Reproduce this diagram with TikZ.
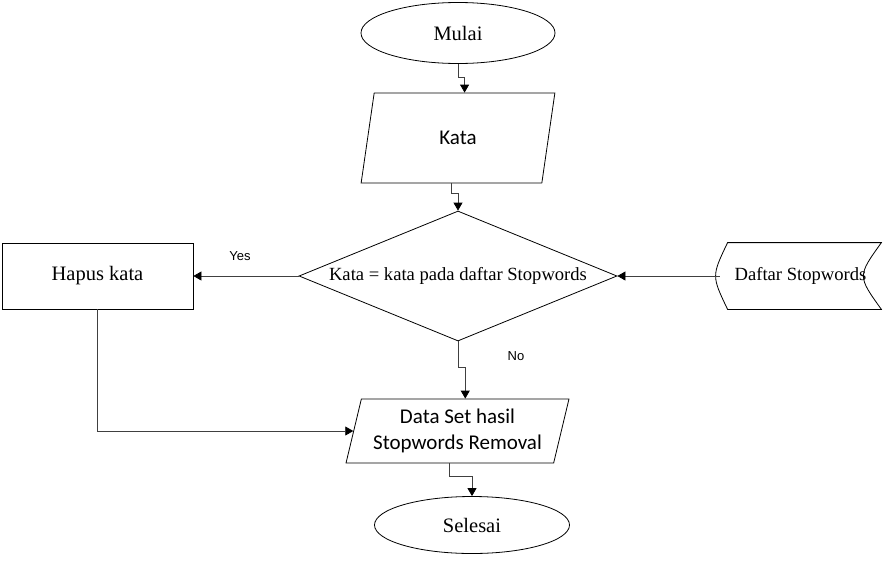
\documentclass[tikz,border=0pt]{standalone}
\usepackage{fontspec}
\setmainfont{Liberation Serif}
\newfontfamily\calibrifont{Carlito}
\newfontfamily\arialfont{Liberation Sans}
\usetikzlibrary{arrows.meta}
\usetikzlibrary{shapes.geometric}
\tikzset{
	every path/.style={line width=0.8pt},
	align=center,
	terminal/.style={
		draw,
		ellipse,
		inner sep=0pt,
		font=\fontsize{20.5}{24}\selectfont,
	},
	io/.style={
		draw,
		trapezium,
		trapezium stretches=true,
		inner sep=0pt,
		font=\calibrifont\fontsize{21}{26}\selectfont,
	},
	process/.style={
		draw,
		rectangle,
		inner sep=0pt,
		font=\fontsize{20.5}{24}\selectfont,
	},
	decision/.style={
		draw,
		diamond,
		inner sep=0pt,
		aspect=2.45,
		font=\fontsize{18.6}{22}\selectfont,
	},
	stored/.style={
		rectangle,
		inner sep=0pt,
		font=\fontsize{18.6}{22}\selectfont,
	},
	flow/.style={
		draw=black!75,
		-{Triangle[length=8pt,width=9pt,black]}
	},
	answer/.style={
		font=\arialfont\fontsize{13}{15}\selectfont,
	},
}

\begin{document}
\begin{tikzpicture}[x=1pt,y=-1pt]
		\useasboundingbox (0,0) rectangle (883,560);

		\node[terminal, minimum width=194pt, minimum height=61pt] (mulai) at (458,33) {Mulai};
		\node[io, trapezium left angle=78, trapezium right angle=102, minimum width=194pt, minimum height=90pt] (kata) at (458,138) {Kata};
		\node[decision, minimum width=318pt, minimum height=130pt] (cek) at (458,276) {Kata = kata pada daftar Stopwords};
		\node[process, minimum width=191pt, minimum height=66pt] (hapus) at (97.5,276) {Hapus kata};
		\node[stored, minimum width=161pt, minimum height=66pt] (daftar) at (800.5,276) {Daftar Stopwords};
		\node[io, trapezium left angle=73, trapezium right angle=107, minimum width=223pt, minimum height=64pt] (dataset) at (457.5,431) {Data Set hasil\\Stopwords Removal};
		\node[terminal, minimum width=195pt, minimum height=57pt] (selesai) at (472,525) {Selesai};

		% outline of the stored data symbol
		\draw ([xshift=8pt]daftar.north west) -- (daftar.north east)
			.. controls ([xshift=-24pt]daftar.east) .. (daftar.south east)
			-- ([xshift=8pt]daftar.south west)
			.. controls ([xshift=-8pt]daftar.west) .. cycle;

		\node[answer] (yes) at (240,256) {Yes};
		\node[answer] (no) at (516,356) {No};

		\draw[flow] (mulai.south) -- ++(0,13) -| (kata.top side);
		\draw[flow] (kata.bottom side) -- ++(0,10) -| (cek.north);
		\draw[flow] (cek.west) -- (hapus.east);
		\draw[flow] (daftar.west) -- (cek.east);
		\draw[flow] (cek.south) -- ++(0,26) -| (dataset.top side);
		\draw[flow] (hapus.south) |- (dataset.left side);
		\draw[flow] (dataset.bottom side) -- ++(0,13) -| (selesai.north);

	\end{tikzpicture}
\end{document}
